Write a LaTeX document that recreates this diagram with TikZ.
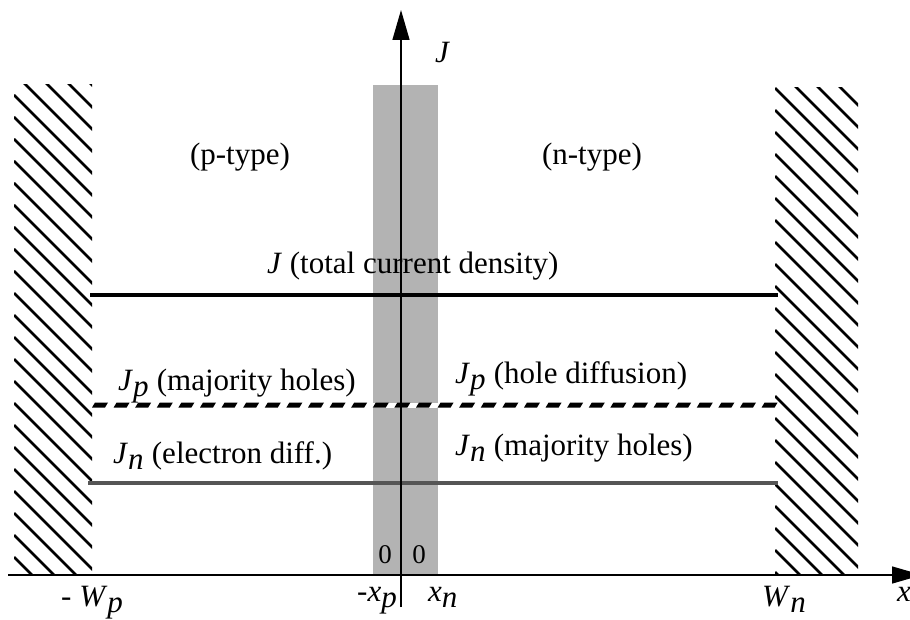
\documentclass[tikz,border=0pt]{standalone}
\usepackage{fontspec}
\setmainfont{Liberation Serif}
\usetikzlibrary{arrows.meta}
\definecolor{bandgray}{HTML}{B3B3B3}
\definecolor{linegray}{HTML}{555555}
\tikzset{
  lbl/.style={inner sep=0pt, anchor=base west, font=\fontsize{31}{36}\selectfont},
  lblc/.style={inner sep=0pt, anchor=base, font=\fontsize{31}{36}\selectfont},
  small/.style={inner sep=0pt, anchor=base, font=\fontsize{27}{30}\selectfont},
  hatch/.style={line width=2.5pt, black},
  axis/.style={line width=1.4pt, -{Triangle[length=30pt,width=17pt]}},
}
\newcommand{\Jsub}[1]{\textit{J}$_{\textit{#1}}$}
\begin{document}
\begin{tikzpicture}[x=1pt,y=-1pt]
\useasboundingbox (0,0) rectangle (910,620);
% depletion band
\fill[bandgray] (373,85) rectangle (438,575);
% hatched contacts
\begin{scope}
\clip (14,85) rectangle (92,575);
\foreach \k in {-6,...,25} \draw[hatch] (14,95+22*\k) -- ++(600,600);
\end{scope}
\begin{scope}
\clip (775,88) rectangle (858,575);
\foreach \k in {-6,...,25} \draw[hatch] (775,88+22*\k) -- ++(600,600);
\end{scope}
% current lines
\coordinate (Jl) at (90,295);
\coordinate (Jr) at (778,295);
\coordinate (Pl) at (92,405);
\coordinate (Pr) at (778,405);
\coordinate (Nl) at (88,483);
\coordinate (Nr) at (778,483);
\draw[line width=4pt] (Jl) -- (Jr);
\draw[line width=5pt, white] (Pl) -- (Pr);
\foreach \i in {0,...,31} \fill (92+\i*21.6,407.5) -- ++(13,0) -- ++(3,-5) -- ++(-13,0) -- cycle;
\draw[line width=4.5pt, linegray] (Nl) -- (Nr);
% axes
\coordinate (xs) at (8,575);
\coordinate (xe) at (922,575);
\coordinate (ys) at (401,607);
\coordinate (ye) at (401,10);
\draw[axis] (xs) -- (xe);
\draw[axis] (ys) -- (ye);
% labels
\node[lbl] (lJ) at (435,63) {\textit{J}};
\node[lblc] (lp) at (240,165) {(p-type)};
\node[lblc] (ln) at (592,165) {(n-type)};
\node[lbl] (ltot) at (267,273) {\textit{J} (total current density)};
\node[lbl] (lpl) at (118,390) {\Jsub{p} (majority holes)};
\node[lbl] (lpr) at (455,383) {\Jsub{p} (hole diffusion)};
\node[lbl] (lnl) at (113,463) {\Jsub{n} (electron diff.)};
\node[lbl] (lnr) at (455,455) {\Jsub{n} (majority holes)};
\node[small] (z1) at (385,563) {0};
\node[small] (z2) at (419,563) {0};
\node[lbl] (lxp) at (357,601) {-\textit{x}$_{\textit{p}}$};
\node[lbl] (lxn) at (428,601) {\textit{x}$_{\textit{n}}$};
\node[lbl] (lwp) at (61,606) {- \textit{W}$_{\textit{p}}$};
\node[lbl] (lwn) at (762,606) {\textit{W}$_{\textit{n}}$};
\node[lbl] (lx) at (897,601) {\textit{x}};
\end{tikzpicture}
\end{document}
